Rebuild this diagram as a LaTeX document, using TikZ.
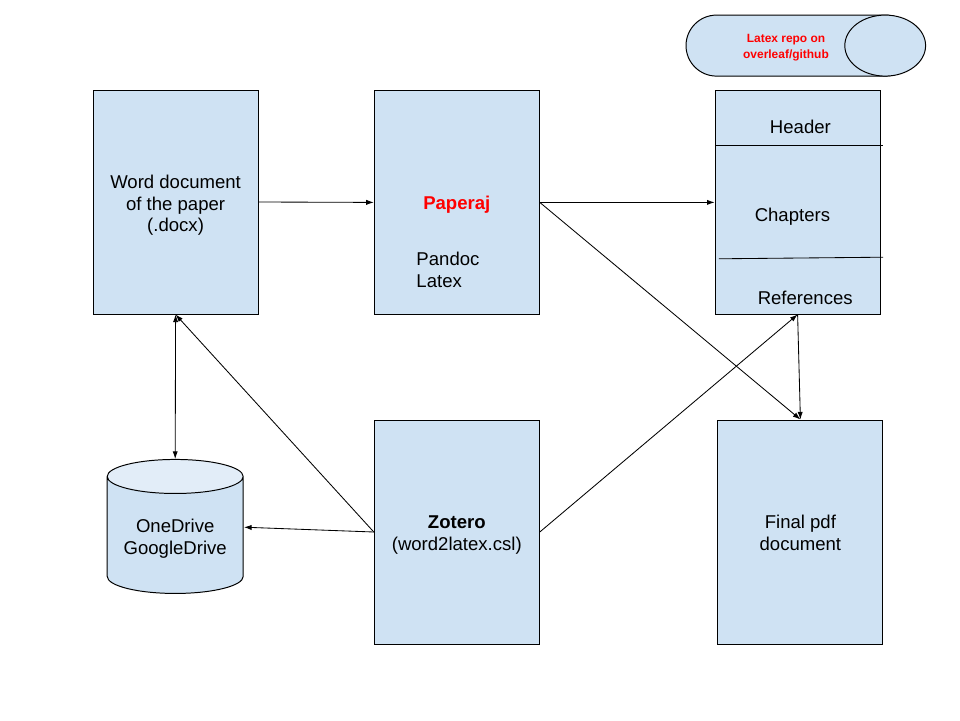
\documentclass[tikz,border=0pt]{standalone}
\usepackage{fontspec}
\setmainfont{Liberation Sans}
\usepackage{tikz}
\usetikzlibrary{arrows.meta,shapes.geometric,shapes.misc}
\definecolor{boxblue}{HTML}{CFE2F3}
\definecolor{capblue}{HTML}{E2EDF8}
\definecolor{alert}{HTML}{FF0000}

\begin{document}
\begin{tikzpicture}[>={Latex[length=1.9mm,width=1.3mm]}, line width=0.7pt,
    card/.style={draw=black, fill=boxblue, minimum width=4.125cm, minimum height=5.6cm, inner sep=0pt},
    txt/.style={font=\fontsize{13.2}{15.6}\selectfont, inner sep=0pt, align=center},
    tiny/.style={font=\fontsize{8.5}{11.5}\selectfont\bfseries, text=alert, inner sep=0pt, align=center},
    link/.style={->, line width=0.6pt}]

    \useasboundingbox (0,0) rectangle (24,18);

    % ---- top row
    \node[card] (word) at (4.39,12.95) {};
    \node[card] (paperaj) at (11.42,12.94) {};
    \node[card] (output) at (19.94,12.95) {};
    \node[txt] (wordtext) at (4.39,12.87) {Word document\\of the paper\\(.docx)};
    \node[txt, font=\fontsize{13.2}{15.6}\selectfont\bfseries, text=alert] (ptitle) at (11.42,12.88) {Paperaj};
    \node[txt, align=left, anchor=west] (ptools) at (10.4,11.25) {Pandoc\\Latex};

    % ---- parts of the output
    \node[txt] (header) at (20.01,14.82) {Header};
    \node[txt] (chapters) at (19.81,12.58) {Chapters};
    \node[txt] (references) at (20.13,10.55) {References};
    \coordinate (h1) at (17.87,14.37);
    \coordinate (h2) at (22.08,14.37);
    \coordinate (r1) at (17.97,11.53);
    \coordinate (r2) at (22.08,11.57);
    \draw[line width=0.6pt] (h1) -- (h2);
    \draw[line width=0.6pt] (r1) -- (r2);

    % ---- repo
    \node[draw=black, fill=boxblue, rounded rectangle, minimum width=5.75cm, minimum height=1.525cm,
          inner sep=0pt] (repo) at (20.025,16.86) {};
    \node[draw=black, fill=boxblue, ellipse, minimum width=2.02cm, minimum height=1.525cm,
          inner sep=0pt] (repoend) at (22.13,16.86) {};
    \node[tiny] (repotext) at (19.65,16.8) {Latex repo on\\overleaf/github};

    % ---- bottom row
    \node[card] (zotero) at (11.42,4.7) {};
    \node[card] (final) at (20.01,4.7) {};
    \node[txt, draw=black, cylinder, shape border rotate=90, aspect=0.33, cylinder uses custom fill,
          cylinder body fill=boxblue, cylinder end fill=capblue, minimum width=3.4cm,
          minimum height=3.35cm] (drive) at (4.38,4.62) {\rule{0pt}{15pt}OneDrive\\GoogleDrive};
    \node[txt] (zoterotext) at (11.42,4.63) {\textbf{Zotero}\\(word2latex.csl)};
    \node[txt] (finaltext) at (20.01,4.68) {Final pdf\\document};
    \coordinate (driveport) at (6.1,4.82);

    % ---- links
    \draw[link] (word.east) -- (paperaj.west);
    \draw[link] (paperaj.east) -- (output.west |- paperaj.east);
    \draw[link] (paperaj.east) -- (final.north);
    \draw[link] (output.south) -- (final.north);
    \draw[link, <->] (word.south) -- (drive.north);
    \draw[link] (zotero.west) -- (word.south);
    \draw[link] (zotero.west) -- (driveport);
    \draw[link] (zotero.east) -- (output.south);
\end{tikzpicture}
\end{document}
